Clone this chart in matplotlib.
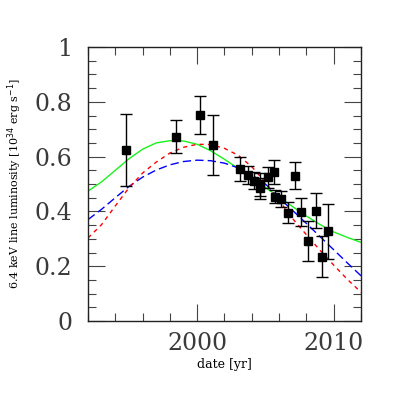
import matplotlib
matplotlib.use("Agg")
import matplotlib.pyplot as plt
from matplotlib.ticker import MultipleLocator, FuncFormatter

# observed data points
obs_year = [1994.76, 1998.46, 2000.2, 2001.17, 2003.16, 2003.71, 2004.18, 2004.61, 2004.61, 2005.17,
            2005.65, 2005.73, 2006.14, 2006.67, 2007.18, 2007.59, 2008.15, 2008.68, 2009.16, 2009.6]
obs_lum = [0.624, 0.673, 0.752, 0.642, 0.555, 0.533, 0.512, 0.499, 0.484, 0.524,
           0.545, 0.454, 0.444, 0.395, 0.530, 0.397, 0.293, 0.403, 0.235, 0.328]
obs_err = [0.13, 0.06, 0.07, 0.11, 0.045, 0.034, 0.031, 0.042, 0.037, 0.037,
           0.044, 0.025, 0.029, 0.038, 0.049, 0.051, 0.073, 0.065, 0.075, 0.10]

# model curves
curve_year = [1992, 1993, 1994, 1995, 1996, 1997, 1998, 1999, 2000, 2001, 2002,
              2003, 2004, 2005, 2006, 2007, 2008, 2009, 2010, 2011, 2012]
green = [0.474, 0.508, 0.550, 0.592, 0.627, 0.650, 0.658, 0.657, 0.645, 0.621, 0.590,
         0.557, 0.521, 0.487, 0.452, 0.417, 0.383, 0.352, 0.325, 0.305, 0.287]
blue = [0.370, 0.408, 0.450, 0.491, 0.525, 0.551, 0.570, 0.582, 0.587, 0.585, 0.576,
        0.559, 0.533, 0.500, 0.449, 0.403, 0.356, 0.308, 0.260, 0.212, 0.165]
red = [0.303, 0.352, 0.420, 0.486, 0.540, 0.580, 0.613, 0.634, 0.645, 0.644, 0.630,
       0.605, 0.563, 0.506, 0.440, 0.373, 0.315, 0.258, 0.204, 0.152, 0.105]

plt.rcParams['font.family'] = ['DejaVu Serif']
fig = plt.figure(figsize=(4.07, 4.07), dpi=100)
ax = fig.add_axes([88/407, 86/407, 273/407, 274/407])

ax.plot(curve_year, green, color=(0.1, 0.95, 0.1), lw=1.0, ls='-')
ax.plot(curve_year, blue, color=(0.0, 0.0, 1.0), lw=1.0, ls=(0, (6, 3)))
ax.plot(curve_year, red, color=(1.0, 0.0, 0.0), lw=1.0, ls=(0, (3, 3)))
ax.errorbar(obs_year, obs_lum, yerr=obs_err, fmt='s', color='black', ms=5.8,
            ecolor='black', elinewidth=1.0, capsize=4, capthick=1.0)

ax.set_xlim(1992, 2012)
ax.set_ylim(0, 1)
ax.xaxis.set_major_locator(MultipleLocator(10))
ax.xaxis.set_minor_locator(MultipleLocator(2))
ax.yaxis.set_major_locator(MultipleLocator(0.2))
ax.yaxis.set_minor_locator(MultipleLocator(0.05))
ax.yaxis.set_major_formatter(FuncFormatter(lambda v, p: ('%g' % round(v, 2))))
ax.tick_params(which='both', direction='in', top=True, right=True, color='#444444', width=0.8)
ax.tick_params(which='major', length=12, labelsize=17, labelcolor='#3a3a3a')
ax.tick_params(which='minor', length=6)
ax.tick_params(axis='y', which='major', pad=11)
ax.tick_params(axis='x', which='major', pad=8)
for s in ax.spines.values():
    s.set_linewidth(1.0)
    s.set_color('#222222')

ax.set_xlabel('date [yr]', fontsize=9, labelpad=2)
ax.set_ylabel(r'6.4 keV line luminosity [10$^{34}$ erg s$^{-1}$]', fontsize=8, labelpad=8)

fig.savefig('out.png', dpi=100)
